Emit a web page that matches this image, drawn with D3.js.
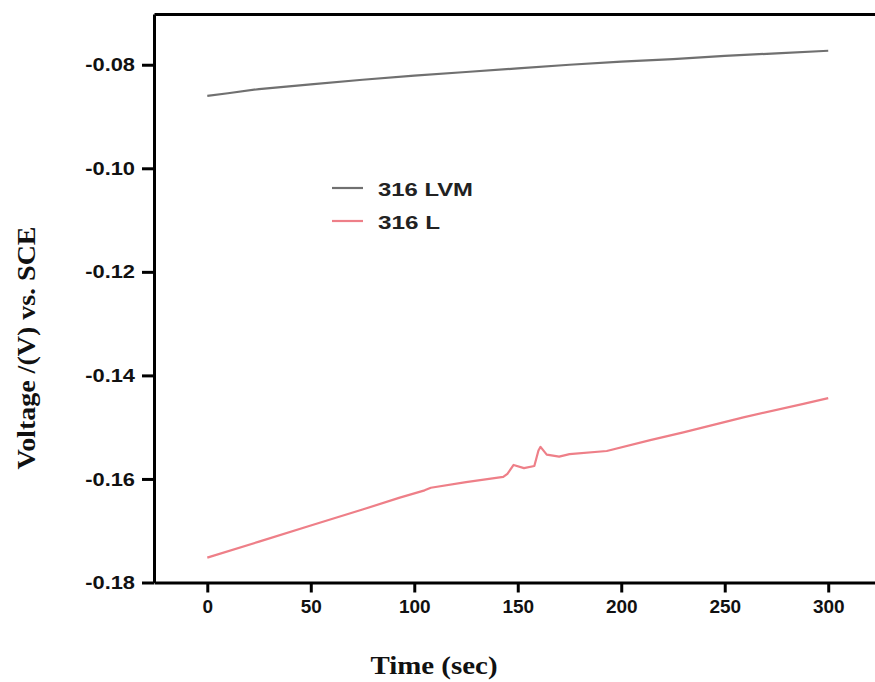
<!DOCTYPE html>
<html lang="en">
<head>
<meta charset="UTF-8">
<title>Open circuit potential vs time</title>
<script src="https://d3js.org/d3.v7.min.js"></script>
<style>
    body { margin: 0; background: #fff; }
    .axis path, .axis line { stroke: #000; stroke-width: 3px; fill: none; }
    .axis text { font-family: "Liberation Sans", Arial, sans-serif; font-weight: bold; font-size: 19px; fill: #111; }
    .title { font-family: "Liberation Serif", "Times New Roman", serif; font-weight: bold; fill: #111; }
    .legend text { font-family: "Liberation Sans", Arial, sans-serif; font-weight: bold; font-size: 18px; fill: #222; }
</style>
</head>
<body>
<svg width="875" height="682"></svg>
<script>
    // series (time in s, potential in V vs SCE)
    var lvmTime = [0, 10, 25, 50, 75, 100, 125, 150, 175, 200, 225, 250, 275, 300];
    var lvmVolt = [-0.0860, -0.0855, -0.0847, -0.0838, -0.0829, -0.0821, -0.0814, -0.0807, -0.0800, -0.0794, -0.0789, -0.0783, -0.0778, -0.0773];

    var lTime = [0, 25, 50, 75, 93, 105, 108, 125, 143, 145, 148, 153, 158, 160, 161, 164, 170, 175, 193, 214, 230, 259, 288, 300];
    var lVolt = [-0.1752, -0.1721, -0.1690, -0.1659, -0.1636, -0.1622, -0.1617, -0.1606, -0.1596, -0.1590, -0.1573, -0.1579, -0.1575, -0.1545, -0.1538, -0.1553, -0.1557, -0.1552, -0.1546, -0.1525, -0.1510, -0.1481, -0.1455, -0.1444];

    var seriesNames = ["316 LVM", "316 L"];
    var seriesColors = ["#707070", "#ee7f88"];
    var xTicks = [0, 50, 100, 150, 200, 250, 300];
    var yTicks = [-0.18, -0.16, -0.14, -0.12, -0.10, -0.08];

    var svg = d3.select("svg");

    // plot box: left axis at 154, bottom at 582, top border at 14, runs off the right edge
    var x = d3.scaleLinear().domain([-25.75, 322.6]).range([154, 875]);
    var y = d3.scaleLinear().domain([-0.18, -0.0702]).range([582.5, 14]);

    var line = d3.line()
        .x(function(d) { return x(d[0]); })
        .y(function(d) { return y(d[1]); });

    var lvm = d3.zip(lvmTime, lvmVolt);
    var l = d3.zip(lTime, lVolt);

    svg.append("path").datum(lvm)
        .attr("d", line)
        .attr("fill", "none")
        .attr("stroke", seriesColors[0])
        .attr("stroke-width", 2.2);

    svg.append("path").datum(l)
        .attr("d", line)
        .attr("fill", "none")
        .attr("stroke", seriesColors[1])
        .attr("stroke-width", 2.2)
        .attr("stroke-linejoin", "round");

    // top border
    svg.append("g")
        .attr("class", "axis")
        .attr("transform", "translate(0," + y.range()[1] + ")")
        .call(d3.axisTop(x).tickValues([]).tickSizeOuter(0));

    // x axis
    var xAxis = svg.append("g")
        .attr("class", "axis")
        .attr("transform", "translate(0," + y.range()[0] + ")")
        .call(d3.axisBottom(x).tickValues(xTicks).tickSize(10).tickPadding(7).tickSizeOuter(0));
    xAxis.selectAll(".tick line").attr("stroke-width", 2.5);

    // y axis
    var yAxis = svg.append("g")
        .attr("class", "axis")
        .attr("transform", "translate(" + x.range()[0] + ",0)")
        .call(d3.axisLeft(y).tickValues(yTicks).tickSize(12).tickSizeOuter(0)
            .tickFormat(function(d) { return d.toFixed(2); }));
    yAxis.selectAll(".tick line").attr("stroke-width", 2.5);
    yAxis.selectAll(".tick text")
        .attr("x", -19 / 1.15)
        .attr("transform", "scale(1.15,1)");

    // axis titles
    svg.append("text")
        .attr("class", "title")
        .attr("x", 434)
        .attr("y", 674)
        .attr("text-anchor", "middle")
        .attr("font-size", 26)
        .attr("textLength", 127)
        .attr("lengthAdjust", "spacingAndGlyphs")
        .text("Time (sec)");

    svg.append("text")
        .attr("class", "title")
        .attr("transform", "translate(35,348) rotate(-90)")
        .attr("text-anchor", "middle")
        .attr("font-size", 26)
        .attr("textLength", 243)
        .attr("lengthAdjust", "spacingAndGlyphs")
        .text("Voltage /(V) vs. SCE");

    // legend
    var legend = svg.append("g").attr("class", "legend");
    var legendY = [188, 221];
    seriesNames.forEach(function(name, i) {
        legend.append("line")
            .attr("x1", 332).attr("x2", 363)
            .attr("y1", legendY[i]).attr("y2", legendY[i])
            .attr("stroke", seriesColors[i])
            .attr("stroke-width", 2.2);
        legend.append("text")
            .attr("x", 378)
            .attr("y", legendY[i] + 8)
            .attr("textLength", i === 0 ? 95 : 62)
            .attr("lengthAdjust", "spacingAndGlyphs")
            .text(name);
    });
</script>
</body>
</html>
